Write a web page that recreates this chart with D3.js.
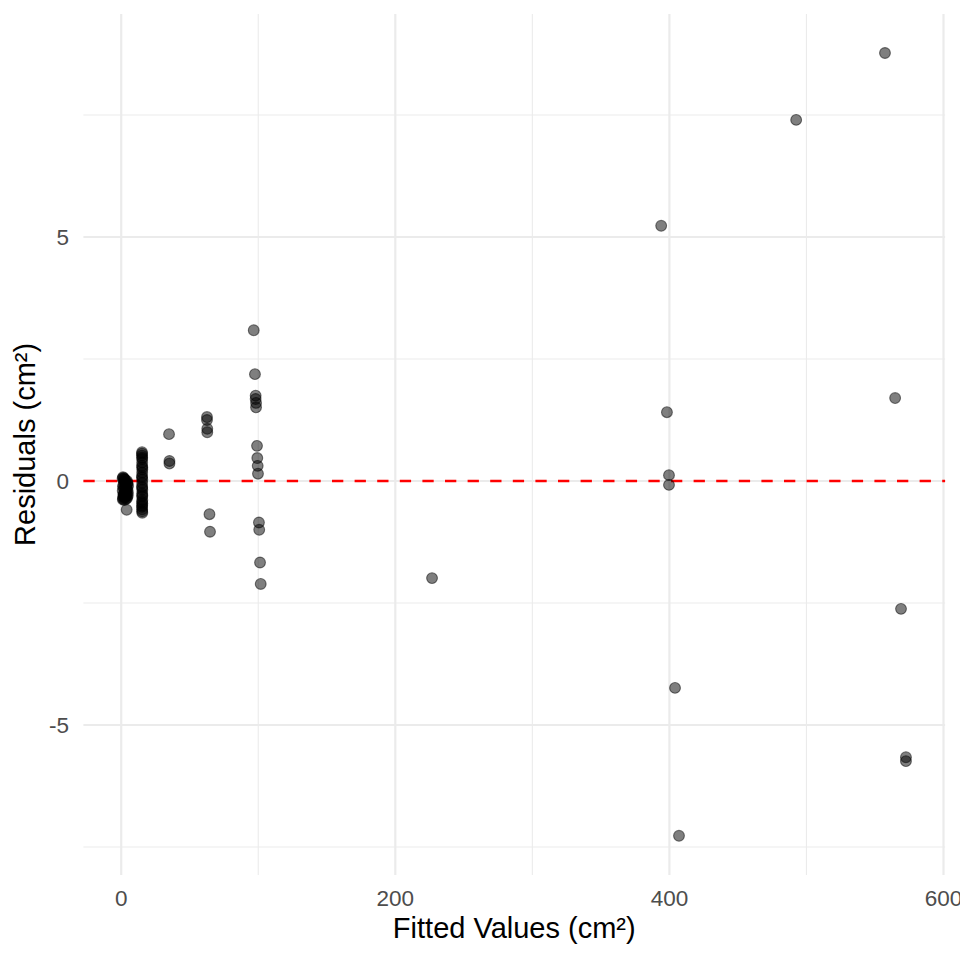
<!DOCTYPE html>
<html>
<head>
<meta charset="utf-8">
<script src="https://cdn.jsdelivr.net/npm/d3@7"></script>
<style>
  body { margin: 0; background: white; }
  svg { font-family: "Liberation Sans", Arial, sans-serif; }
</style>
</head>
<body>
<div></div>
<script>
//data
var fitted = [
  // cluster near 0
  1.0, 1.3, 1.6, 1.9, 2.2, 2.5, 2.8, 3.1, 3.4, 3.7, 4.0, 4.3, 4.6, 5.0, 1.2, 1.8, 2.4, 3.0, 3.6, 4.2, 4.8, 1.4, 2.1, 3.3, 4.0,
  1.1, 1.5, 2.0, 2.6, 3.2, 3.8, 4.4, 4.9, 1.3, 1.7, 2.3, 2.9, 3.5, 4.1, 4.7,
  // column near 15
  15.2, 15.2, 15.3, 15.3, 15.2, 15.4, 15.3, 15.2, 15.4, 15.3, 15.2, 15.4, 15.3, 15.3, 15.4, 15.4, 15.2, 15.3, 15.3, 15.4,
  15.2, 15.3, 15.4, 15.2, 15.3, 15.4, 15.2, 15.3,
  // near 35
  34.9, 35.2, 35.2,
  // near 63
  62.6, 62.6, 62.8, 62.8, 64.4, 64.8,
  // near 100
  96.7, 97.6, 98.1, 98.1, 98.4, 98.4, 99.1, 99.3, 99.6, 99.8, 100.5, 100.7, 101.3, 101.8,
  // larger shapes
  226.8,
  394.0, 398.2, 399.7, 399.7, 404.1, 407.0,
  492.5, 557.3, 564.7, 569.0, 572.6, 572.6
];
var residuals = [
  0.05, 0.08, -0.08, 0.06, -0.15, 0.03, -0.22, -0.05, -0.30, -0.12, -0.25, -0.35, -0.18, -0.10, -0.38, -0.28, -0.39, -0.33, -0.20, 0.00, -0.30, -0.36, -0.02, -0.14, -0.59,
  -0.20, -0.32, 0.04, -0.26, -0.09, -0.31, -0.06, -0.24, -0.12, -0.27, -0.34, 0.02, -0.37, -0.16, -0.04,
  0.59, 0.52, 0.45, 0.38, 0.31, 0.24, 0.17, 0.10, 0.03, -0.04, -0.11, -0.18, -0.25, -0.32, -0.39, -0.46, -0.53, -0.58, -0.62, -0.65,
  0.56, 0.48, 0.28, 0.07, -0.14, -0.29, -0.43, -0.50,
  0.96, 0.41, 0.36,
  1.31, 1.25, 1.07, 1.00, -0.68, -1.04,
  3.09, 2.19, 1.75, 1.68, 1.60, 1.51, 0.72, 0.47, 0.31, 0.15, -0.85, -1.00, -1.67, -2.11,
  -1.99,
  5.23, 1.41, 0.12, -0.08, -4.24, -7.27,
  7.40, 8.77, 1.70, -2.62, -5.66, -5.74
];
var xMajor = [0, 200, 400, 600];
var xMinor = [100, 300, 500];
var yMajor = [-5, 0, 5];
var yMinor = [-7.5, -2.5, 2.5, 7.5];
var xTitle = "Fitted Values (cm²)";
var yTitle = "Residuals (cm²)";

var points = fitted.map(function(f, i){ return {x: f, y: residuals[i]}; });

var width = 960, height = 960;
var svg = d3.select('div').append('svg')
  .attr('width', width)
  .attr('height', height);

//scales with ggplot style 5% padding
var xExt = d3.extent(fitted), yExt = d3.extent(residuals);
var xPad = (xExt[1] - xExt[0]) * 0.05, yPad = (yExt[1] - yExt[0]) * 0.05;
var x = d3.scaleLinear()
  .domain([xExt[0] - xPad, xExt[1] + xPad])
  .range([121.2 + (xExt[0] - xPad) * 1.3705, 121.2 + (xExt[1] + xPad) * 1.3705]);
var y = d3.scaleLinear()
  .domain([yExt[0] - yPad, yExt[1] + yPad])
  .range([481 - (yExt[0] - yPad) * 48.8, 481 - (yExt[1] + yPad) * 48.8]);

var pLeft = x.range()[0], pRight = x.range()[1];
var pTop = y.range()[1], pBottom = y.range()[0];

//grid
var grid = svg.append('g');
grid.selectAll('.hminor').data(yMinor).enter().append('line')
  .attr('x1', pLeft).attr('x2', pRight)
  .attr('y1', function(d){ return y(d); }).attr('y2', function(d){ return y(d); })
  .attr('stroke', '#ebebeb').attr('stroke-width', 1.1);
grid.selectAll('.vminor').data(xMinor).enter().append('line')
  .attr('y1', pTop).attr('y2', pBottom)
  .attr('x1', function(d){ return x(d); }).attr('x2', function(d){ return x(d); })
  .attr('stroke', '#ebebeb').attr('stroke-width', 1.1);
grid.selectAll('.hmajor').data(yMajor).enter().append('line')
  .attr('x1', pLeft).attr('x2', pRight)
  .attr('y1', function(d){ return y(d); }).attr('y2', function(d){ return y(d); })
  .attr('stroke', '#ebebeb').attr('stroke-width', 2.2);
grid.selectAll('.vmajor').data(xMajor).enter().append('line')
  .attr('y1', pTop).attr('y2', pBottom)
  .attr('x1', function(d){ return x(d); }).attr('x2', function(d){ return x(d); })
  .attr('stroke', '#ebebeb').attr('stroke-width', 2.2);

//zero reference line
svg.append('line')
  .attr('x1', pLeft).attr('x2', pRight)
  .attr('y1', y(0)).attr('y2', y(0))
  .attr('stroke', 'red')
  .attr('stroke-width', 2.7)
  .attr('stroke-dasharray', '11.3,11.3');

//points
svg.selectAll('.pt').data(points).enter().append('circle')
  .attr('class', 'pt')
  .attr('cx', function(d){ return x(d.x); })
  .attr('cy', function(d){ return y(d.y); })
  .attr('r', 5.4)
  .attr('fill', 'black').attr('fill-opacity', 0.5)
  .attr('stroke', 'black').attr('stroke-opacity', 0.5)
  .attr('stroke-width', 1.1);

//tick labels
svg.selectAll('.xlab').data(xMajor).enter().append('text')
  .attr('x', function(d){ return x(d); })
  .attr('y', 906)
  .attr('text-anchor', 'middle')
  .attr('font-size', 22.5)
  .attr('fill', '#4d4d4d')
  .text(function(d){ return d; });
svg.selectAll('.ylab').data(yMajor).enter().append('text')
  .attr('x', 69)
  .attr('y', function(d){ return y(d); })
  .attr('dy', '0.36em')
  .attr('text-anchor', 'end')
  .attr('font-size', 22.5)
  .attr('fill', '#4d4d4d')
  .text(function(d){ return d < 0 ? '-' + Math.abs(d) : d; });

//axis titles
svg.append('text')
  .attr('x', (pLeft + pRight) / 2)
  .attr('y', 938)
  .attr('text-anchor', 'middle')
  .attr('font-size', 29)
  .attr('fill', 'black')
  .text(xTitle);
svg.append('text')
  .attr('transform', 'translate(35,' + ((pTop + pBottom) / 2) + ') rotate(-90)')
  .attr('text-anchor', 'middle')
  .attr('font-size', 29)
  .attr('fill', 'black')
  .text(yTitle);
</script>
</body>
</html>
